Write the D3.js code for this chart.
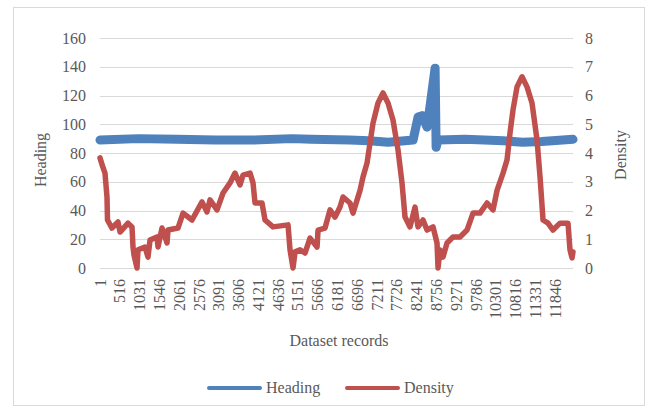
<!DOCTYPE html>
<html>
<head>
<meta charset="utf-8">
<script src="https://cdn.jsdelivr.net/npm/d3@7"></script>
<style>
  body { margin: 0; background: #fff; }
  text { font-family: "Liberation Serif", "DejaVu Serif", "Times New Roman", serif; fill: #595959; }
</style>
</head>
<body>
<svg id="chart" width="648" height="408"></svg>
<script>
// record numbers and values
const densityRecords = [1, 53, 131, 183, 196, 313, 470, 522, 730, 834, 860, 886, 964, 990, 1172, 1250, 1303, 1485, 1511, 1615, 1745, 1771, 2031, 2162, 2396, 2656, 2786, 2864, 3047, 3203, 3385, 3515, 3645, 3724, 3906, 3984, 4036, 4218, 4296, 4504, 4895, 4947, 5025, 5077, 5207, 5337, 5467, 5650, 5676, 5858, 5988, 6118, 6248, 6326, 6508, 6586, 6769, 6847, 6951, 7029, 7107, 7237, 7367, 7497, 7627, 7758, 7862, 7940, 8070, 8200, 8278, 8408, 8513, 8669, 8773, 8799, 8851, 8929, 9033, 9189, 9372, 9554, 9710, 9892, 10075, 10231, 10335, 10491, 10595, 10673, 10751, 10855, 10985, 11115, 11245, 11376, 11454, 11532, 11662, 11792, 11974, 12182, 12234, 12286, 12312];
const densityValues = [3.83, 3.6, 3.3, 2.47, 1.67, 1.39, 1.6, 1.25, 1.56, 1.43, 0.73, 0.45, 0, 0.63, 0.73, 0.38, 0.97, 1.08, 0.73, 1.39, 0.87, 1.32, 1.39, 1.91, 1.67, 2.3, 1.95, 2.37, 2.02, 2.61, 2.96, 3.3, 2.89, 3.23, 3.3, 2.96, 2.26, 2.26, 1.67, 1.43, 1.5, 0.63, 0, 0.56, 0.63, 0.52, 1.04, 0.73, 1.32, 1.39, 2.02, 1.77, 2.12, 2.47, 2.26, 1.91, 2.7, 3.17, 3.65, 4.35, 5.04, 5.74, 6.09, 5.74, 5.15, 4.1, 2.96, 1.77, 1.43, 2.12, 1.43, 1.67, 1.32, 1.43, 0.87, 0, 0.63, 0.38, 0.87, 1.08, 1.08, 1.32, 1.91, 1.91, 2.26, 2.02, 2.7, 3.3, 3.76, 4.7, 5.5, 6.3, 6.65, 6.3, 5.74, 4.45, 3.17, 1.67, 1.56, 1.32, 1.56, 1.56, 0.63, 0.35, 0.56];

const headingRecords = [1, 1000, 2000, 3000, 4000, 5000, 5500, 6500, 7000, 7500, 8150, 8280, 8384, 8514, 8593, 8723, 8749, 8801, 9500, 10500, 11000, 11500, 12312];
const headingValues = [89, 90, 89.5, 89, 89, 90, 89.5, 89, 88.5, 87.5, 89, 105, 106, 98, 113, 139, 84, 89, 89.5, 88.5, 87.5, 88, 89.5];

const xTickLabels = [1, 516, 1031, 1546, 2061, 2576, 3091, 3606, 4121, 4636, 5151, 5666, 6181, 6696, 7211, 7726, 8241, 8756, 9271, 9786, 10301, 10816, 11331, 11846];
const headingTicks = [0, 20, 40, 60, 80, 100, 120, 140, 160];
const densityTicks = [0, 1, 2, 3, 4, 5, 6, 7, 8];

const svg = d3.select("#chart");
const plot = {left: 100, right: 573, top: 38, bottom: 268};

// outer frame
svg.append("rect")
  .attr("x", 13.5).attr("y", 7.5)
  .attr("width", 631).attr("height", 398)
  .attr("fill", "none").attr("stroke", "#d9d9d9");

const x = d3.scaleLinear().domain([1, 12312]).range([plot.left, plot.right]);
const yH = d3.scaleLinear().domain([0, 160]).range([plot.bottom, plot.top]);
const yD = d3.scaleLinear().domain([0, 8]).range([plot.bottom, plot.top]);

// gridlines
svg.append("g")
  .selectAll("line")
  .data(headingTicks)
  .join("line")
  .attr("x1", plot.left).attr("x2", plot.right)
  .attr("y1", d => Math.round(yH(d)) + 0.5).attr("y2", d => Math.round(yH(d)) + 0.5)
  .attr("stroke", "#d9d9d9").attr("stroke-width", 1);

// left axis
const leftAxis = svg.append("g")
  .attr("transform", "translate(" + plot.left + ",0)")
  .call(d3.axisLeft(yH).tickValues(headingTicks).tickSize(0).tickPadding(14));
leftAxis.select(".domain").remove();
leftAxis.attr("font-family", null).attr("font-size", null);
leftAxis.selectAll("text").style("font-size", "16px");

// right axis
const rightAxis = svg.append("g")
  .attr("transform", "translate(" + plot.right + ",0)")
  .call(d3.axisRight(yD).tickValues(densityTicks).tickSize(0).tickPadding(12));
rightAxis.select(".domain").remove();
rightAxis.attr("font-family", null).attr("font-size", null);
rightAxis.selectAll("text").style("font-size", "16px");

// bottom category labels
svg.append("g")
  .selectAll("text")
  .data(xTickLabels)
  .join("text")
  .attr("transform", d => "translate(" + x(d) + ",279) rotate(-90)")
  .attr("dy", "0.35em")
  .attr("text-anchor", "end")
  .style("font-size", "16px")
  .text(d => d);

// axis titles
svg.append("text")
  .attr("transform", "translate(46,160) rotate(-90)")
  .attr("text-anchor", "middle")
  .style("font-size", "16px")
  .text("Heading");

svg.append("text")
  .attr("transform", "translate(626,155) rotate(-90)")
  .attr("text-anchor", "middle")
  .style("font-size", "16px")
  .text("Density");

svg.append("text")
  .attr("x", 339).attr("y", 346)
  .attr("text-anchor", "middle")
  .style("font-size", "16px")
  .text("Dataset records");

// series
const heading = headingRecords.map((r, i) => [r, headingValues[i]]);
const density = densityRecords.map((r, i) => [r, densityValues[i]]);

svg.append("path")
  .datum(heading)
  .attr("d", d3.line().x(d => x(d[0])).y(d => yH(d[1])))
  .attr("fill", "none")
  .attr("stroke", "#4f81bd")
  .attr("stroke-width", 9)
  .attr("stroke-linejoin", "round")
  .attr("stroke-linecap", "round");

svg.append("path")
  .datum(density)
  .attr("d", d3.line().x(d => x(d[0])).y(d => yD(d[1])))
  .attr("fill", "none")
  .attr("stroke", "#c0504d")
  .attr("stroke-width", 5.5)
  .attr("stroke-linejoin", "round")
  .attr("stroke-linecap", "round");

// legend
const legend = [
  {name: "Heading", color: "#4f81bd", x: 207},
  {name: "Density", color: "#c0504d", x: 345}
];
const lg = svg.append("g").selectAll("g").data(legend).join("g");
lg.append("line")
  .attr("x1", d => d.x + 2).attr("x2", d => d.x + 53)
  .attr("y1", 388).attr("y2", 388)
  .attr("stroke", d => d.color)
  .attr("stroke-width", 4)
  .attr("stroke-linecap", "round");
lg.append("text")
  .attr("x", d => d.x + 59).attr("y", 393)
  .style("font-size", "16px")
  .text(d => d.name);
</script>
</body>
</html>
